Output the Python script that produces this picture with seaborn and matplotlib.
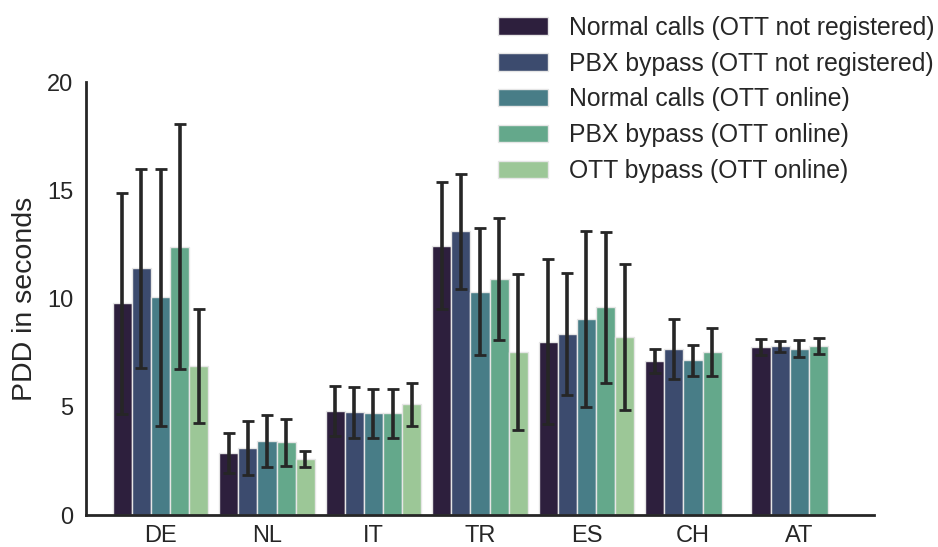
import numpy as np
import pandas as pd
import matplotlib
matplotlib.use("Agg")
import matplotlib.pyplot as plt
import seaborn as sns

countries = ["DE", "NL", "IT", "TR", "ES", "CH", "AT"]
conditions = [
    "Normal calls (OTT not registered)",
    "PBX bypass (OTT not registered)",
    "Normal calls (OTT online)",
    "PBX bypass (OTT online)",
    "OTT bypass (OTT online)",
]
colors = ["#2D1F3D", "#3C4B6E", "#487D87", "#64A88B", "#9CC797"]

# mean PDD per country, one list per condition
normal_notreg = [9.78, 2.85, 4.80, 12.44, 8.01, 7.11, 7.76]
pbx_notreg = [11.39, 3.11, 4.74, 13.10, 8.36, 7.67, 7.79]
normal_online = [10.05, 3.42, 4.70, 10.32, 9.05, 7.14, 7.68]
pbx_online = [12.39, 3.36, 4.70, 10.90, 9.59, 7.54, 7.79]
ott_online = [6.88, 2.59, 5.11, 7.54, 8.22, np.nan, np.nan]

# error (half-length) per country, one list per condition
err_normal_notreg = [5.10, 0.93, 1.16, 2.92, 3.80, 0.56, 0.36]
err_pbx_notreg = [4.60, 1.25, 1.16, 2.67, 2.80, 1.38, 0.24]
err_normal_online = [5.95, 1.18, 1.14, 2.92, 4.05, 0.70, 0.40]
err_pbx_online = [5.66, 1.08, 1.14, 2.80, 3.50, 1.10, 0.37]
err_ott_online = [2.63, 0.38, 0.98, 3.60, 3.36, np.nan, np.nan]

means = [normal_notreg, pbx_notreg, normal_online, pbx_online, ott_online]
errs = [err_normal_notreg, err_pbx_notreg, err_normal_online, err_pbx_online, err_ott_online]

rows = []
for cond, m, e in zip(conditions, means, errs):
    for c, v, s in zip(countries, m, e):
        rows.append({"country": c, "condition": cond, "pdd": v, "err": s})
df = pd.DataFrame(rows)

sns.set_theme(style="white")
plt.rcParams["font.family"] = ["Liberation Sans", "DejaVu Sans"]

fig = plt.figure(figsize=(9.38, 5.47), dpi=100)
ax = fig.add_axes([0.0917, 0.0585, 0.840, 0.7915])

sns.barplot(data=df, x="country", y="pdd", hue="condition",
            order=countries, hue_order=conditions, palette=colors,
            width=0.9, errorbar=None, edgecolor="#e6e6e6", linewidth=1.0,
            saturation=1, ax=ax)

# error bars positioned from the drawn bars
lookup = df.set_index(["country", "condition"])["err"]
for cond, cont in zip(conditions, ax.containers):
    for patch in cont.patches:
        h = patch.get_height()
        if not np.isfinite(h) or h == 0:
            continue
        xc = patch.get_x() + patch.get_width() / 2
        country = countries[int(round(xc))]
        e = lookup[(country, cond)]
        ax.errorbar(xc, h, yerr=e, fmt="none", ecolor="#262626",
                    elinewidth=2.6, capsize=4.2, capthick=2.0, zorder=5)

ax.set_ylim(0, 20)
ax.set_xlim(-0.7, 6.7)
ax.set_yticks([0, 5, 10, 15, 20])
ax.set_xlabel("")
ax.set_ylabel("PDD in seconds", fontsize=20.5, color="#262626", labelpad=7)
ax.tick_params(axis="both", length=0, labelsize=17, colors="#262626")
ax.tick_params(axis="y", pad=9)
ax.tick_params(axis="x", pad=7)
sns.despine(ax=ax)
for s in ["left", "bottom"]:
    ax.spines[s].set_color("#262626")
    ax.spines[s].set_linewidth(2.0)

handles, labels = ax.get_legend_handles_labels()
ax.get_legend().remove()
fig.legend(handles, labels, loc="upper right", bbox_to_anchor=(1.0, 0.978),
           frameon=False, fontsize=17.8, handlelength=2.0, handleheight=0.7,
           handletextpad=0.85, labelspacing=0.48, borderaxespad=0.05,
           borderpad=0.1, labelcolor="#262626")

fig.savefig("out.png", dpi=100)
